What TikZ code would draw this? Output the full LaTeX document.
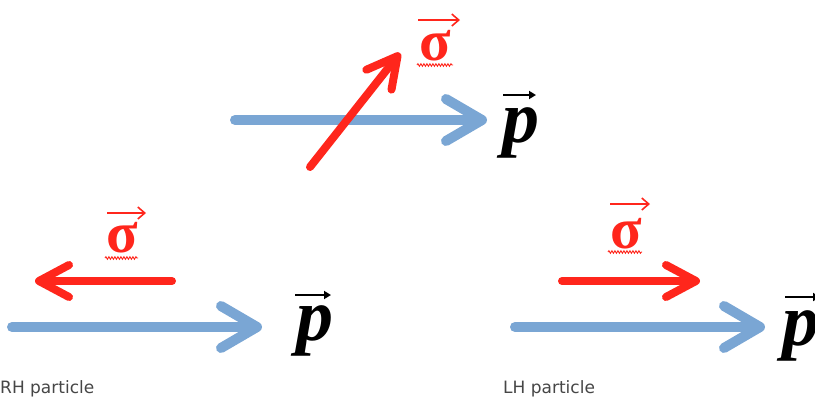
\documentclass[tikz,border=0pt]{standalone}
\usepackage{fontspec}
\setmainfont{Liberation Serif}
\newfontfamily\labelfont{DejaVu Sans}
\usetikzlibrary{arrows.meta,decorations.pathmorphing}
\definecolor{myred}{RGB}{255,38,28}
\definecolor{myblue}{RGB}{122,166,212}
\definecolor{labelgray}{RGB}{70,70,70}
\begin{document}
\begin{tikzpicture}[x=1pt,y=-1pt,
 momentum/.style={draw=myblue, line width=10pt, line cap=round, -{Straight Barb[length=36pt,width=42pt,round]}},
 spin/.style={draw=myred, line width=8pt, line cap=round, -{Straight Barb[length=30pt,width=32pt,round]}},
 sigmatext/.style={text=myred, font=\fontsize{58}{60}\selectfont\bfseries, inner sep=0pt, anchor=base},
 ptext/.style={font=\fontsize{74}{76}\selectfont\bfseries\itshape, inner sep=0pt, anchor=base},
 vecred/.style={draw=myred, line width=1.6pt, -{Straight Barb[length=7pt,width=12pt]}},
 vecblack/.style={draw=black, line width=2pt, -{Triangle[length=7pt,width=8pt]}},
 wavy/.style={draw=myred, line width=0.9pt, decorate, decoration={snake, amplitude=1.3pt, segment length=3pt}},
 caption/.style={font=\labelfont\fontsize{17}{19}\selectfont, text=labelgray, inner sep=0pt, anchor=base west}]
\useasboundingbox (0,0) rectangle (815,397);
% top group
\coordinate (tb1) at (235,120); \coordinate (tb2) at (487,120);
\coordinate (tr1) at (310,167); \coordinate (tr2) at (400,53);
\draw[momentum] (tb1) -- (tb2);
\draw[spin] (tr1) -- (tr2);
\node[sigmatext] (s1) at (435,60) {σ};
\coordinate (s1a) at (418,20); \coordinate (s1b) at (460,20);
\draw[vecred] (s1a) -- (s1b);
\coordinate (s1w1) at (417,65); \coordinate (s1w2) at (453,65);
\draw[wavy] (s1w1) -- (s1w2);
\node[ptext] (p1) at (521,142) {p};
\coordinate (p1a) at (503,95); \coordinate (p1b) at (536,95);
\draw[vecblack] (p1a) -- (p1b);
% bottom left (RH)
\coordinate (lb1) at (12,327); \coordinate (lb2) at (262,327);
\coordinate (lr1) at (172,281); \coordinate (lr2) at (35,281);
\draw[momentum] (lb1) -- (lb2);
\draw[spin] (lr1) -- (lr2);
\node[sigmatext] (s2) at (122,252) {σ};
\coordinate (s2a) at (107,213); \coordinate (s2b) at (146,213);
\draw[vecred] (s2a) -- (s2b);
\coordinate (s2w1) at (105,258); \coordinate (s2w2) at (138,258);
\draw[wavy] (s2w1) -- (s2w2);
\node[ptext] (p2) at (315,340) {p};
\coordinate (p2a) at (295,295); \coordinate (p2b) at (331,295);
\draw[vecblack] (p2a) -- (p2b);
\node[caption] (rh) at (0,393) {RH particle};
% bottom right (LH)
\coordinate (rb1) at (515,327); \coordinate (rb2) at (765,327);
\coordinate (rr1) at (562,281); \coordinate (rr2) at (700,281);
\draw[momentum] (rb1) -- (rb2);
\draw[spin] (rr1) -- (rr2);
\node[sigmatext] (s3) at (626,248) {σ};
\coordinate (s3a) at (610,204); \coordinate (s3b) at (650,204);
\draw[vecred] (s3a) -- (s3b);
\coordinate (s3w1) at (608,252); \coordinate (s3w2) at (642,252);
\draw[wavy] (s3w1) -- (s3w2);
\node[ptext] (p3) at (801,345) {p};
\coordinate (p3a) at (785,297); \coordinate (p3b) at (820,297);
\draw[vecblack] (p3a) -- (p3b);
\node[caption] (lh) at (503,393) {LH particle};
\end{tikzpicture}
\end{document}
